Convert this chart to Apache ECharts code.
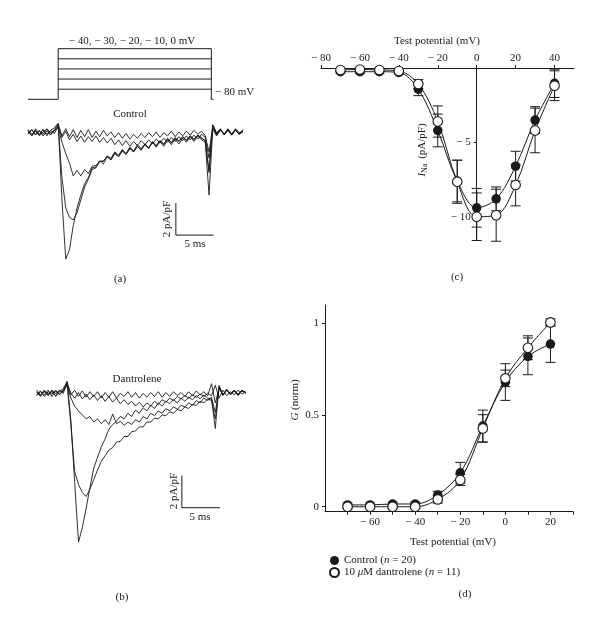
<!DOCTYPE html>
<html>
<head>
<meta charset="utf-8">
<script src="https://cdn.jsdelivr.net/npm/echarts@6.0.0/dist/echarts.min.js"></script>
<style>
  html, body { margin: 0; background: #fff; }
  #chart { width: 600px; height: 625px; }
</style>
</head>
<body>
<div id="chart"></div>
<script>
const FONT = '"Liberation Serif", "DejaVu Serif", serif'
const INK = '#1a1a1a'

// voltage protocol (schematic)
const stepLevels = [-40, -30, -20, -10, 0]
const holdLevel = -80
const stepOn = 4.0
const stepOff = 24.3
const protocolEnd = 24.6

// (a) control current traces, pA/pF, one value per 0.5 ms
const timesA = [0, 0.5, 1, 1.5, 2, 2.5, 3, 3.5, 4, 4.5, 5, 5.5, 6, 6.5, 7, 7.5, 8, 8.5, 9, 9.5,
  10, 10.5, 11, 11.5, 12, 12.5, 13, 13.5, 14, 14.5, 15, 15.5, 16, 16.5, 17, 17.5, 18, 18.5, 19, 19.5,
  20, 20.5, 21, 21.5, 22, 22.5, 23, 23.5, 24, 24.5, 25, 25.5, 26, 26.5, 27, 27.5, 28, 28.5]
const ctrlTraces = [
  [0.1, -0.2, 0.25, -0.1, 0.2, -0.2, 0.15, 0.3,
    0.6, -4.2, -7.9, -7.3, -5.8, -4.7, -3.9, -3.2, -2.8, -2.2, -2.15, -1.75,
    -1.95, -1.5, -1.7, -1.25, -1.5, -1.1, -1.35, -0.95, -1.2, -0.85,
    -1.1, -0.75, -1.0, -0.6, -0.9, -0.55, -0.85, -0.45, -0.75, -0.4,
    -0.7, -0.35, -0.6, -0.25, -0.55, -0.2, -0.45, -0.6, -3.9, 0.35,
    -0.15, 0.2, -0.1, 0.25, -0.15, 0.15, -0.1, 0.2],
  [-0.1, 0.2, -0.1, 0.15, -0.2, 0.1, -0.15, 0.2,
    0.5, -2.8, -4.7, -5.3, -5.45, -5.0, -4.2, -3.4, -2.9, -2.3, -2.2, -1.8,
    -1.8, -1.45, -1.6, -1.2, -1.4, -1.05, -1.3, -0.9, -1.15, -0.75,
    -1.0, -0.7, -0.95, -0.55, -0.8, -0.5, -0.75, -0.35, -0.65, -0.3,
    -0.55, -0.25, -0.5, -0.2, -0.45, -0.15, -0.35, -0.5, -2.5, 0.5,
    0.0, 0.25, -0.1, 0.2, -0.15, 0.25, 0.0, 0.1],
  [0.2, -0.1, 0.15, -0.2, 0.05, 0.2, -0.1, 0.15,
    0.3, -0.6, -1.3, -1.9, -2.7, -2.35, -2.7, -2.3, -2.55, -2.1, -2.05, -1.8,
    -1.75, -1.5, -1.7, -1.3, -1.5, -1.15, -1.35, -1.0, -1.2, -0.85,
    -1.05, -0.7, -0.95, -0.6, -0.85, -0.5, -0.7, -0.4, -0.6, -0.35,
    -0.5, -0.25, -0.45, -0.2, -0.4, -0.15, -0.3, -0.5, -2.4, 0.4,
    -0.05, 0.2, -0.1, 0.15, -0.15, 0.15, -0.05, 0.1],
  [0.15, -0.2, 0.1, -0.15, 0.2, -0.1, 0.15, -0.05,
    0.4, -0.3, 0.1, -0.45, -0.1, -0.55, -0.2, -0.6, -0.25, -0.55, -0.2, -0.6,
    -0.3, -0.65, -0.35, -0.75, -0.45, -0.8, -0.5, -0.85, -0.55, -0.8,
    -0.5, -0.75, -0.45, -0.7, -0.4, -0.65, -0.35, -0.6, -0.3, -0.55,
    -0.25, -0.5, -0.2, -0.45, -0.15, -0.4, -0.1, -0.3, -1.6, 0.2,
    -0.2, 0.15, -0.1, 0.2, -0.05, 0.15, -0.1, 0.05],
  [-0.05, 0.2, -0.15, 0.1, -0.1, 0.25, 0.0, 0.1,
    0.55, -0.2, 0.25, -0.25, 0.2, -0.3, 0.15, -0.25, 0.2, -0.3, 0.1, -0.25,
    0.15, -0.2, 0.05, -0.3, 0.0, -0.35, -0.05, -0.4, -0.1, -0.35,
    -0.05, -0.3, 0.0, -0.25, 0.05, -0.3, 0.0, -0.2, 0.1, -0.25,
    0.05, -0.2, 0.1, -0.15, 0.15, -0.1, 0.1, -0.2, -1.2, 0.45,
    -0.1, 0.2, -0.15, 0.15, -0.1, 0.2, -0.05, 0.1]
]

// (b) dantrolene current traces, pA/pF
const timesB = [0, 0.5, 1, 1.5, 2, 2.5, 3, 3.5, 4, 4.5, 5, 5.5, 6, 6.5, 7, 7.5, 8, 8.5, 9, 9.5,
  10, 10.5, 11, 11.5, 12, 12.5, 13, 13.5, 14, 14.5, 15, 15.5, 16, 16.5, 17, 17.5, 18, 18.5, 19, 19.5,
  20, 20.5, 21, 21.5, 22, 22.5, 23, 23.5, 24, 24.5, 25, 25.5, 26, 26.5, 27, 27.5]
const dantTraces = [
  [0.1, -0.15, 0.2, -0.05, 0.15, -0.2, 0.1, 0.3,
    0.75, -1.7, -5.6, -9.3, -8.4, -7.2, -5.9, -4.7, -4.0, -3.35, -2.85, -2.25,
    -1.95, -1.75, -1.45, -1.6, -1.25, -1.45, -1.05, -1.25, -0.9, -1.1,
    -0.75, -0.95, -0.6, -0.8, -0.5, -0.65, -0.4, -0.6, -0.3, -0.5,
    -0.25, -0.4, -0.15, -0.35, -0.1, -0.3, -0.35, -2.2, 0.5, -0.1,
    0.25, -0.05, 0.2, -0.1, 0.2, 0.05],
  [-0.1, 0.15, -0.2, 0.1, -0.05, 0.2, -0.1, 0.2,
    0.6, -2.0, -4.9, -5.7, -6.2, -6.45, -6.0, -5.4, -4.8, -4.25, -3.9, -3.55,
    -3.4, -3.05, -3.0, -2.7, -2.7, -2.4, -2.35, -2.1, -2.1, -1.8,
    -1.8, -1.55, -1.6, -1.35, -1.4, -1.15, -1.25, -1.0, -1.1, -0.85,
    -0.95, -0.7, -0.75, -0.5, -0.6, -0.35, -0.45, -1.6, 0.4, -0.15,
    0.2, -0.1, 0.15, -0.05, 0.2, 0.0],
  [0.2, -0.1, 0.1, -0.15, 0.2, 0.0, 0.15, 0.1,
    0.5, -0.3, -0.8, -1.1, -1.35, -1.6, -1.45, -1.8, -1.6, -1.9, -1.65, -1.95,
    -1.3, -1.9, -1.75, -2.0, -1.8, -1.95, -1.65, -1.8, -1.45, -1.6,
    -1.25, -1.4, -1.1, -1.25, -0.95, -1.1, -0.85, -1.0, -0.75, -0.85,
    -0.6, -0.75, -0.45, -0.6, -0.3, -0.45, -0.25, -1.2, 0.35, -0.1,
    0.2, 0.0, 0.15, -0.1, 0.15, 0.05],
  [-0.15, 0.1, -0.1, 0.2, -0.2, 0.15, -0.05, 0.2,
    0.6, 0.0, -0.3, 0.05, -0.35, -0.05, -0.4, -0.1, -0.45, -0.15, -0.5, -0.2,
    -0.55, -0.3, -0.65, -0.4, -0.7, -0.5, -0.8, -0.55, -0.85, -0.6,
    -0.8, -0.5, -0.7, -0.4, -0.55, -0.3, -0.45, -0.2, -0.35, -0.15,
    -0.3, -0.1, -0.25, -0.05, -0.2, 0.0, -0.15, 0.5, -0.3, 0.2,
    -0.15, 0.1, -0.1, 0.2, -0.05, 0.1],
  [0.05, -0.2, 0.15, -0.1, 0.1, -0.15, 0.2, 0.0,
    0.7, -0.1, 0.2, -0.2, 0.15, -0.25, 0.1, -0.2, 0.1, -0.3, 0.05, -0.25,
    0.1, -0.3, 0.0, -0.2, 0.1, -0.25, 0.05, -0.3, 0.0, -0.25,
    0.05, -0.2, 0.1, -0.25, 0.05, -0.2, 0.1, -0.15, 0.05, -0.2,
    0.1, -0.15, 0.15, -0.1, 0.1, -0.15, 0.6, -0.6, 0.3, -0.1,
    0.25, -0.05, 0.2, -0.15, 0.15, 0.0]
]

// scale bars: 5 ms, 2 pA/pF
const scaleMs = 5
const scalePA = 2
const scaleCornerA = [19.6, -6.4]
const scaleCornerB = [19.1, -7.15]

// (c) I-V relation
const ivPotentials = [-70, -60, -50, -40, -30, -20, -10, 0, 10, 20, 30, 40]
const ivControl = [-0.25, -0.25, -0.25, -0.3, -1.43, -4.2, -7.6, -9.4, -8.8, -6.6, -3.5, -1.03]
const ivControlErr = [0.1, 0.1, 0.1, 0.1, 0.43, 1.1, 1.4, 1.3, 0.8, 1.0, 0.9, 0.95]
const ivDant = [-0.13, -0.1, -0.13, -0.2, -1.08, -3.6, -7.65, -10.0, -9.9, -7.87, -4.2, -1.19]
const ivDantErr = [0.1, 0.1, 0.1, 0.1, 0.3, 1.05, 1.45, 1.6, 1.75, 1.4, 1.5, 1.0]
const ivTicks = [-80, -60, -40, -20, 0, 20, 40]
const ivYTicks = [-10, -5]

// (d) conductance
const gPotentials = [-70, -60, -50, -40, -30, -20, -10, 0, 10, 20]
const gControl = [0.01, 0.01, 0.015, 0.015, 0.064, 0.185, 0.44, 0.68, 0.82, 0.887]
const gControlErr = [0.01, 0.01, 0.01, 0.01, 0.02, 0.057, 0.087, 0.1, 0.1, 0.1]
const gDant = [0, 0, 0, 0, 0.04, 0.146, 0.427, 0.70, 0.867, 1.005]
const gDantErr = [0.01, 0.01, 0.01, 0.01, 0.02, 0.03, 0.075, 0.045, 0.065, 0.02]
const gTicks = [-70, -60, -50, -40, -30, -20, -10, 0, 10, 20, 30]
const gLabels = [-60, -40, -20, 0, 20]
const gYTicks = [0, 0.5, 1]

const nameControl = 'Control (n = 20)'
const nameDant = '10 μM dantrolene (n = 11)'

const fmt = v => (v < 0 ? '− ' + (-v) : String(v))
const textBase = { fontFamily: FONT, fontSize: 11, color: INK }

// grid (c) geometry, the y axis sits on 0 mV
const gridC = { left: 321, top: 68, width: 253, height: 172.5 }
const ivXMin = -80
const ivXMax = 50
const ivYAxisShift = -(0 - ivXMin) / (ivXMax - ivXMin) * gridC.width

function hiddenAxes(grid, min, max) {
  return { gridIndex: grid, type: 'value', min, max, show: false }
}

function plainLine(grid, data, width) {
  return {
    type: 'line', xAxisIndex: grid, yAxisIndex: grid, data, silent: true,
    showSymbol: false, symbol: 'none', clip: false,
    lineStyle: { color: INK, width: width || 1 }
  }
}

function errorBars(grid, xs, ys, errs) {
  return {
    type: 'custom', xAxisIndex: grid, yAxisIndex: grid, silent: true, z: 3,
    data: xs.map((x, i) => [x, ys[i], errs[i]]),
    encode: { x: 0, y: 1 },
    renderItem(params, api) {
      const x = api.value(0), y = api.value(1), e = api.value(2)
      const hi = api.coord([x, y + e]), lo = api.coord([x, y - e])
      const w = 5
      const style = { stroke: INK, lineWidth: 1, fill: null }
      return {
        type: 'group', children: [
          { type: 'line', shape: { x1: hi[0], y1: hi[1], x2: lo[0], y2: lo[1] }, style },
          { type: 'line', shape: { x1: hi[0] - w, y1: hi[1], x2: hi[0] + w, y2: hi[1] }, style },
          { type: 'line', shape: { x1: lo[0] - w, y1: lo[1], x2: lo[0] + w, y2: lo[1] }, style }
        ]
      }
    }
  }
}

function points(grid, name, xs, ys, open) {
  return {
    type: 'scatter', name, xAxisIndex: grid, yAxisIndex: grid, z: open ? 5 : 4,
    data: xs.map((x, i) => [x, ys[i]]), symbol: 'circle', symbolSize: 9.5, silent: true,
    itemStyle: open
      ? { color: '#fff', borderColor: INK, borderWidth: 1.1, opacity: 1 }
      : { color: INK, opacity: 1 }
  }
}

function fitLine(grid, xs, ys) {
  const s = plainLine(grid, xs.map((x, i) => [x, ys[i]]), 1)
  s.smooth = 0.35
  s.z = 2
  return s
}

const series = []

// protocol
const nSteps = stepLevels.length
series.push(plainLine(0, [[0, 0], [stepOn, 0], [stepOn, nSteps], [stepOff, nSteps], [stepOff, 0], [protocolEnd, 0]], 1))
stepLevels.slice(0, nSteps - 1).forEach((v, k) => {
  series.push(plainLine(0, [[stepOn, k + 1], [stepOff, k + 1]], 1))
})

// traces
ctrlTraces.forEach(tr => series.push(plainLine(1, timesA.map((t, i) => [t, tr[i]]), 0.9)))
dantTraces.forEach(tr => series.push(plainLine(2, timesB.map((t, i) => [t, tr[i]]), 0.9)))
series.push(plainLine(1, [[scaleCornerA[0], scaleCornerA[1] + scalePA], scaleCornerA, [scaleCornerA[0] + scaleMs, scaleCornerA[1]]], 1))
series.push(plainLine(2, [[scaleCornerB[0], scaleCornerB[1] + scalePA], scaleCornerB, [scaleCornerB[0] + scaleMs, scaleCornerB[1]]], 1))

// (c)
series.push(fitLine(3, ivPotentials, ivControl))
series.push(fitLine(3, ivPotentials, ivDant))
series.push(errorBars(3, ivPotentials, ivControl, ivControlErr))
series.push(errorBars(3, ivPotentials, ivDant, ivDantErr))
series.push(points(3, nameControl, ivPotentials, ivControl, false))
series.push(points(3, nameDant, ivPotentials, ivDant, true))

// (d)
series.push(fitLine(4, gPotentials, gControl))
series.push(fitLine(4, gPotentials, gDant))
series.push(errorBars(4, gPotentials, gControl, gControlErr))
series.push(errorBars(4, gPotentials, gDant, gDantErr))
series.push(points(4, nameControl, gPotentials, gControl, false))
series.push(points(4, nameDant, gPotentials, gDant, true))

function txt(text, x, y, extra) {
  return Object.assign({
    type: 'text', x, y, silent: true, z: 10,
    style: {
      text, fill: INK, fontFamily: FONT, fontSize: 11,
      textAlign: 'center', textVerticalAlign: 'middle', align: 'center', verticalAlign: 'middle'
    }
  }, extra || {})
}

const stepLabel = stepLevels.map(fmt).join(', ') + ' mV'
const holdLabel = fmt(holdLevel) + ' mV'

const option = {
  animation: false,
  backgroundColor: '#fff',
  grid: [
    { left: 28, top: 48.7, width: 215, height: 50.6 },
    { left: 28, top: 116.7, width: 215, height: 152 },
    { left: 36.7, top: 377.3, width: 209, height: 168 },
    gridC,
    { left: 325, top: 305, width: 248, height: 206.7 }
  ],
  xAxis: [
    hiddenAxes(0, 0, 28.5),
    hiddenAxes(1, 0, 28.5),
    hiddenAxes(2, 0, 27.5),
    {
      gridIndex: 3, type: 'value', min: ivXMin, max: ivXMax, position: 'top',
      axisLine: { onZero: false, lineStyle: { color: INK, width: 1 } },
      axisTick: { customValues: ivTicks, length: 3, lineStyle: { color: INK } },
      axisLabel: Object.assign({ customValues: ivTicks, formatter: fmt, margin: 4 }, textBase),
      splitLine: { show: false }
    },
    {
      gridIndex: 4, type: 'value', min: -80, max: 30,
      axisLine: { onZero: false, lineStyle: { color: INK, width: 1 } },
      axisTick: { customValues: gTicks, length: 3, lineStyle: { color: INK } },
      axisLabel: Object.assign({ customValues: gLabels, formatter: fmt, margin: 5 }, textBase),
      splitLine: { show: false }
    }
  ],
  yAxis: [
    hiddenAxes(0, 0, 5),
    hiddenAxes(1, -8.5, 1),
    hiddenAxes(2, -9.5, 1),
    {
      gridIndex: 3, type: 'value', min: -11.6, max: 0, position: 'left', offset: ivYAxisShift,
      axisLine: { onZero: false, lineStyle: { color: INK, width: 1 } },
      axisTick: { customValues: ivYTicks, length: 3, lineStyle: { color: INK } },
      axisLabel: Object.assign({ customValues: ivYTicks, formatter: fmt, margin: 6 }, textBase),
      splitLine: { show: false }
    },
    {
      gridIndex: 4, type: 'value', min: -0.027, max: 1.1,
      axisLine: { onZero: false, lineStyle: { color: INK, width: 1 } },
      axisTick: { customValues: gYTicks, length: 3, lineStyle: { color: INK } },
      axisLabel: Object.assign({ customValues: gYTicks, formatter: v => String(v), margin: 6 }, textBase),
      splitLine: { show: false }
    }
  ],
  legend: {
    data: [nameControl, nameDant],
    orient: 'vertical', left: 324, top: 550, itemWidth: 9, itemHeight: 9, itemGap: 1,
    selectedMode: false, icon: 'circle',
    formatter: name => name.replace('μ', '{it|μ}').replace('n =', '{it|n} ='),
    textStyle: Object.assign({ rich: { it: { fontFamily: FONT, fontSize: 11, fontStyle: 'italic', color: INK } } }, textBase)
  },
  graphic: [
    txt(stepLabel, 132, 41),
    txt(holdLabel, 215, 92, { style: { text: holdLabel, fill: INK, fontFamily: FONT, fontSize: 11, textAlign: 'left', align: 'left', textVerticalAlign: 'middle', verticalAlign: 'middle' } }),
    txt('Control', 130, 114),
    txt('2 pA/pF', 167, 219, { rotation: Math.PI / 2 }),
    txt('5 ms', 195, 244),
    txt('(a)', 120, 279),
    txt('Dantrolene', 137, 379),
    txt('2 pA/pF', 174, 491, { rotation: Math.PI / 2 }),
    txt('5 ms', 200, 517),
    txt('(b)', 122, 597),
    txt('Test potential (mV)', 437, 41),
    {
      type: 'text', x: 422, y: 150, rotation: Math.PI / 2, silent: true,
      style: {
        text: '{i|I}{s|Na} (pA/pF)', fill: INK, fontFamily: FONT, fontSize: 11,
        textAlign: 'center', align: 'center', textVerticalAlign: 'middle', verticalAlign: 'middle',
        rich: {
          i: { fontFamily: FONT, fontSize: 11, fontStyle: 'italic', fill: INK },
          s: { fontFamily: FONT, fontSize: 8, fill: INK, padding: [5, 2, 0, 0] }
        }
      }
    },
    txt('(c)', 457, 277),
    txt('Test potential (mV)', 453, 542),
    {
      type: 'text', x: 295, y: 400, rotation: Math.PI / 2, silent: true,
      style: {
        text: '{i|G} (norm)', fill: INK, fontFamily: FONT, fontSize: 11,
        textAlign: 'center', align: 'center', textVerticalAlign: 'middle', verticalAlign: 'middle',
        rich: { i: { fontFamily: FONT, fontSize: 11, fontStyle: 'italic', fill: INK } }
      }
    },
    txt('(d)', 465, 594)
  ],
  series
}

const chart = echarts.init(document.getElementById('chart'))
chart.setOption(option)
</script>
</body>
</html>
